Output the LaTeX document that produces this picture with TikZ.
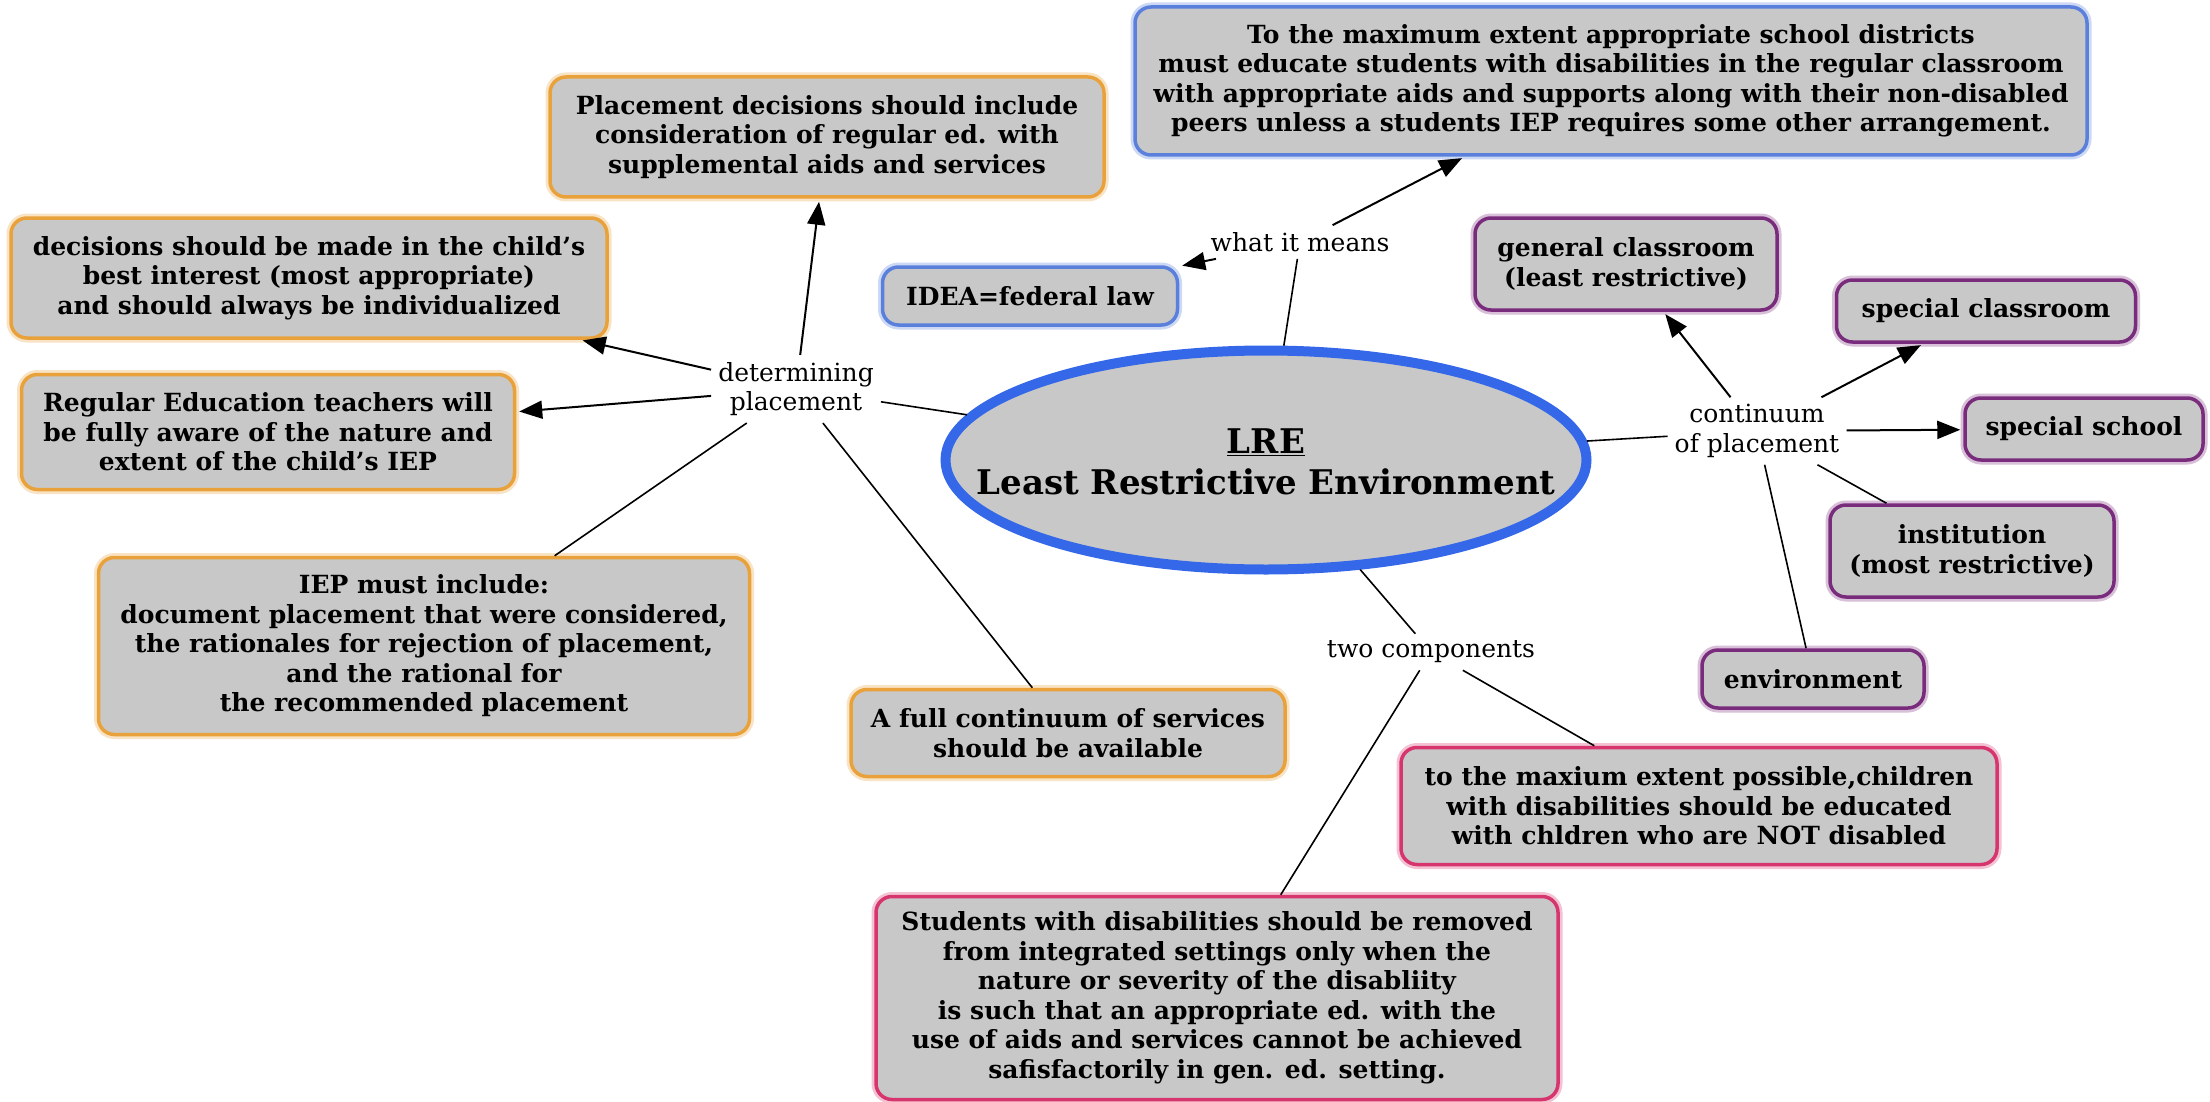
\documentclass[tikz,border=0pt]{standalone}
\usepackage{fontspec}
\setmainfont{DejaVu Serif}
\usetikzlibrary{shapes.geometric,arrows.meta}
\definecolor{boxgray}{HTML}{C8C8C9}
\definecolor{orangeb}{HTML}{E9A23B}
\definecolor{blueb}{HTML}{5A80DC}
\definecolor{ellblue}{HTML}{3568E8}
\definecolor{purpleb}{HTML}{7A2C7C}
\definecolor{pinkb}{HTML}{D7356E}
\tikzset{
  box/.style={draw=#1, line width=3.5pt, rounded corners=16pt, fill=boxgray,
    align=center, inner sep=0pt,
    font=\bfseries\fontsize{25}{29.5}\selectfont,
    preaction={draw=#1!30, line width=9pt}},
  lab/.style={align=center, inner sep=7pt, font=\fontsize{25}{29.5}\selectfont},
  arr/.style={line width=2pt, shorten >=3pt, -{Triangle[length=23pt,width=18pt]}},
  ln/.style={line width=1.6pt},
}
\begin{document}
\begin{tikzpicture}[x=1pt,y=-1pt]
\fill[white] (0,0) rectangle (2210,1102);
\useasboundingbox (0,0) rectangle (2210,1102);

% central concept
\node[ellipse, draw=ellblue, line width=10pt, fill=boxgray, minimum width=641pt,
  minimum height=219pt, inner sep=0pt] (lre) at (1266,460) {};
\node[align=center, inner sep=0pt,
  font=\bfseries\fontsize{34}{41}\selectfont] (lret) at (1266,462)
  {\underline{LRE}\\Least Restrictive Environment};

% orange boxes
\node[box=orangeb, minimum width=554pt, minimum height=120pt] (b1) at (827,137)
  {Placement decisions should include\\consideration of regular ed. with\\supplemental aids and services};
\node[box=orangeb, minimum width=596pt, minimum height=120pt] (b2) at (309,278)
  {decisions should be made in the child's\\best interest (most appropriate)\\and should always be individualized};
\node[box=orangeb, minimum width=493pt, minimum height=115pt] (b3) at (268,432)
  {Regular Education teachers will\\be fully aware of the nature and\\extent of the child's IEP};
\node[box=orangeb, minimum width=651pt, minimum height=177pt] (b4) at (424,646)
  {IEP must include:\\document placement that were considered,\\the rationales for rejection of placement,\\and the rational for\\the recommended placement};
\node[box=orangeb, minimum width=434pt, minimum height=87pt] (b5) at (1068,733)
  {A full continuum of services\\should be available};

% blue boxes
\node[box=blueb, minimum width=295pt, minimum height=58pt] (idea) at (1030,296)
  {IDEA=federal law};
\node[box=blueb, minimum width=952pt, minimum height=148pt] (b7) at (1611,81)
  {To the maximum extent appropriate school districts\\must educate students with disabilities in the regular classroom\\with appropriate aids and supports along with their non-disabled\\peers unless a students IEP requires some other arrangement.};

% purple boxes
\node[box=purpleb, minimum width=302pt, minimum height=92pt] (gen) at (1626,264)
  {general classroom\\(least restrictive)};
\node[box=purpleb, minimum width=299pt, minimum height=62pt] (scls) at (1986,311)
  {special classroom};
\node[box=purpleb, minimum width=238pt, minimum height=62pt] (ssch) at (2084,429)
  {special school};
\node[box=purpleb, minimum width=284pt, minimum height=92pt] (inst) at (1972,551)
  {institution\\(most restrictive)};
\node[box=purpleb, minimum width=222pt, minimum height=58pt] (env) at (1813,679)
  {environment};

% pink boxes
\node[box=pinkb, minimum width=596pt, minimum height=117pt] (p1) at (1699,806)
  {to the maxium extent possible,children\\with disabilities should be educated\\with chldren who are NOT disabled};
\node[box=pinkb, minimum width=682pt, minimum height=203pt] (p2) at (1217,998)
  {Students with disabilities should be removed\\from integrated settings only when the\\nature or severity of the disabliity\\is such that an appropriate ed. with the\\use of aids and services cannot be achieved\\safisfactorily in gen. ed. setting.};

% linking phrases
\node[lab] (l1) at (796,389) {determining\\placement};
\node[lab] (l2) at (1300,242) {what it means};
\node[lab] (l3) at (1757,431) {continuum\\of placement};
\node[lab] (l4) at (1431,652) {two components};

% connectors
\draw[ln] (lre) -- (l1);
\draw[arr] (l1) -- (b1);
\draw[arr] (l1) -- (b2);
\draw[arr] (l1) -- (b3);
\draw[ln] (l1) -- (b4);
\draw[ln] (l1) -- (b5);

\draw[ln] (lre) -- (l2);
\draw[arr] (l2) -- (idea);
\draw[arr] (l2) -- (b7);

\draw[ln] (lre) -- (l3);
\draw[arr] (l3) -- (gen);
\draw[arr] (l3) -- (scls);
\draw[arr] (l3) -- (ssch);
\draw[ln] (l3) -- (inst);
\draw[ln] (l3) -- (env);

\draw[ln] (lre) -- (l4);
\draw[ln] (l4) -- (p1);
\draw[ln] (l4) -- (p2);
\end{tikzpicture}
\end{document}
